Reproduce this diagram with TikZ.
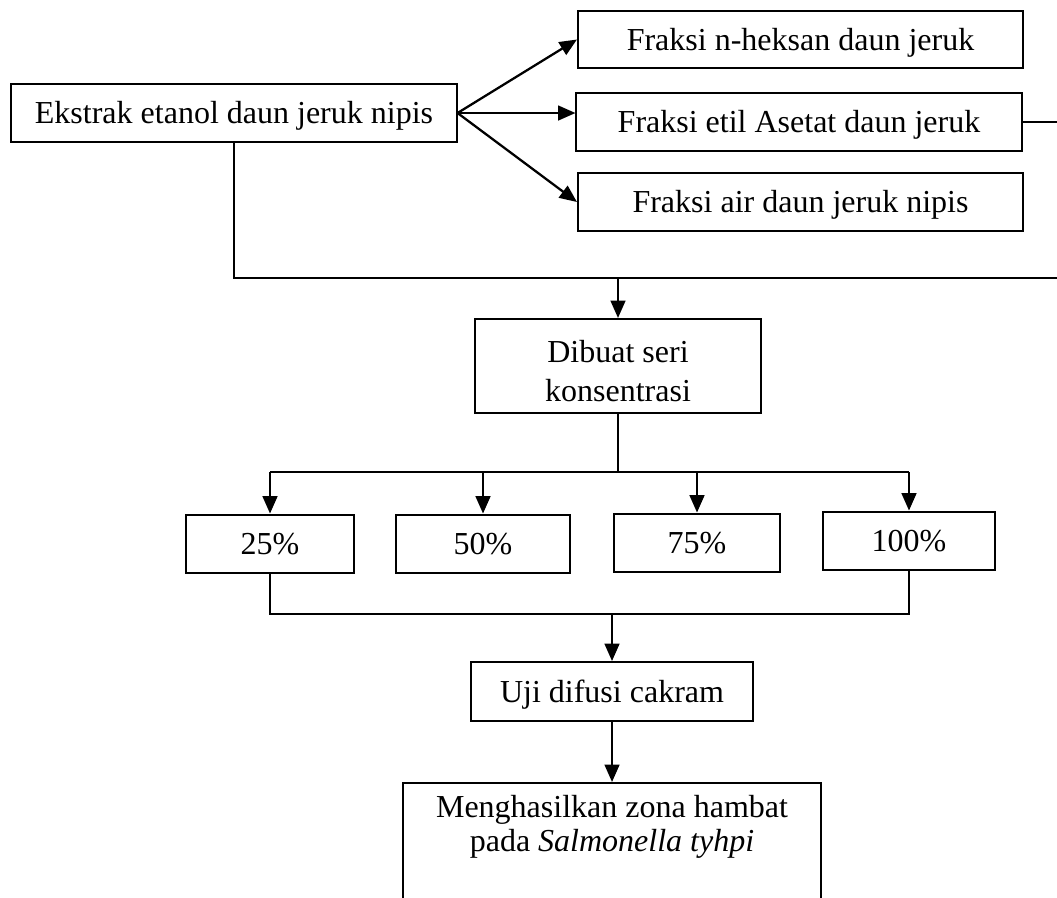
\documentclass[tikz,border=0pt]{standalone}
\usepackage{fontspec}
\setmainfont{Liberation Serif}
\usetikzlibrary{arrows.meta}
\begin{document}
\begin{tikzpicture}[x=0.375pt, y=-0.375pt,
  kotak/.style={draw=black, line width=0.75pt, inner sep=0pt, align=center,
    font=\fontsize{12pt}{14.4pt}\selectfont},
  satubaris/.style={kotak, text height=10.5pt, text depth=2.5pt},
  garis/.style={line width=0.75pt},
  panah/.style={line width=0.85pt, -{Triangle[length=6.5pt,width=5.5pt]}}]
\clip (0,0) rectangle (1057,897);
% bahan awal dan fraksi
\node[satubaris, minimum width=166.9pt, minimum height=21.75pt] (ekstrak) at (234,113) {Ekstrak etanol daun jeruk nipis};
\node[satubaris, minimum width=166.9pt, minimum height=21.5pt] (heksan) at (800.5,39.5) {Fraksi n-heksan daun jeruk};
\node[satubaris, minimum width=166.9pt, minimum height=21.75pt] (etil) at (799,122) {Fraksi etil Asetat daun jeruk};
\node[satubaris, minimum width=166.9pt, minimum height=21.75pt] (air) at (800.5,202) {Fraksi air daun jeruk nipis};
\draw[panah] (ekstrak.east) -- (heksan.west);
\draw[panah] (ekstrak.east) -- (ekstrak.east -| etil.west);
\draw[panah] (ekstrak.east) -- (air.west);
\coordinate (ujung) at (1075,278);
\draw[garis] (etil.east) -| (ujung);
\draw[garis] (ekstrak.south) |- (ujung);
% seri konsentrasi
\node[kotak, minimum width=107.25pt, minimum height=35.25pt] (dibuat) at (618,366) {\rule{0pt}{12pt}Dibuat seri\\konsentrasi};
\draw[panah] (dibuat.north |- ujung) -- (dibuat.north);
\node[satubaris, minimum width=63pt, minimum height=22.1pt] (p25) at (270,544) {25\%};
\node[satubaris, minimum width=65pt, minimum height=22.1pt] (p50) at (483,544) {50\%};
\node[satubaris, minimum width=62pt, minimum height=22.1pt] (p75) at (697,543) {75\%};
\node[satubaris, minimum width=64.5pt, minimum height=22.1pt] (p100) at (909,541) {100\%};
\coordinate (cabang) at (618,472);
\draw[garis] (dibuat.south) -- (cabang);
\draw[garis] (p25.north |- cabang) -- (p100.north |- cabang);
\draw[panah] (p25.north |- cabang) -- (p25.north);
\draw[panah] (p50.north |- cabang) -- (p50.north);
\draw[panah] (p75.north |- cabang) -- (p75.north);
\draw[panah] (p100.north |- cabang) -- (p100.north);
% uji dan hasil
\coordinate (gabung) at (612,614);
\draw[garis] (p25.south) -- (p25.south |- gabung) -- (p100.south |- gabung) -- (p100.south);
\node[satubaris, minimum width=105.75pt, minimum height=22.1pt] (uji) at (612,691.5) {Uji difusi cakram};
\draw[panah] (gabung) -- (uji.north);
\node[kotak, anchor=north, minimum width=156.75pt, minimum height=56pt] (hasil) at (612,782) {};
\node[anchor=north, inner sep=0pt, align=center, font=\fontsize{12pt}{12.8pt}\selectfont] (hasilteks) at (612,795) {Menghasilkan zona hambat\\pada \textit{Salmonella tyhpi}};
\draw[panah] (uji.south) -- (hasil.north);
\end{tikzpicture}
\end{document}
